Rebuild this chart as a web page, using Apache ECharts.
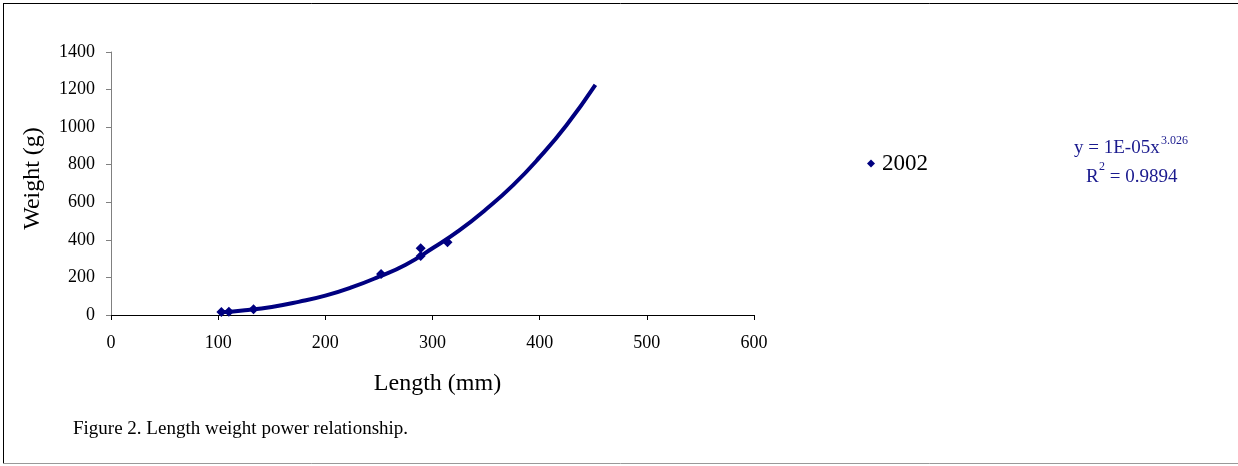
<!DOCTYPE html>
<html>
<head>
<meta charset="utf-8">
<script src="https://cdn.jsdelivr.net/npm/echarts@6/dist/echarts.min.js"></script>
<style>
html,body{margin:0;padding:0;background:#fff;}
#chart{width:1238px;height:466px;}
</style>
</head>
<body>
<div id="chart"></div>
<script>
// Observed data (Length mm, Weight g) for 2002
var lengths = [103, 110, 133, 252, 289, 289, 314];
var weights = [16, 17, 30, 218, 355, 314, 387];
// Power trendline
var trendLengths = [103, 125, 150, 175, 200, 225, 250, 275, 300, 325, 350, 375, 400, 425, 452];
var trendWeights = [14, 25, 43, 70, 103, 148, 204, 268, 355, 450, 563, 690, 840, 1010, 1225];
var xTicks = [0, 100, 200, 300, 400, 500, 600];
var yTicks = [0, 200, 400, 600, 800, 1000, 1200, 1400];
var seriesName = '2002';
var xTitle = 'Length (mm)';
var yTitle = 'Weight (g)';
var caption = 'Figure 2. Length weight power relationship.';
var eqMain = 'y = 1E-05x';
var eqExp = '3.026';
var r2Label = 'R';
var r2Exp = '2';
var r2Value = ' = 0.9894';

var pts = lengths.map(function (x, i) { return [x, weights[i]]; });
var trend = trendLengths.map(function (x, i) { return [x, trendWeights[i]]; });

var serif = '"Liberation Serif", "Times New Roman", serif';
var navy = '#000080';
var eqColor = '#1a1a8e';

var chart = echarts.init(document.getElementById('chart'), null, {renderer: 'canvas'});
chart.setOption({
  backgroundColor: '#ffffff',
  animation: false,
  textStyle: {fontFamily: serif},
  grid: {left: 111, right: 484, top: 52, bottom: 151, containLabel: false},
  legend: {
    data: [seriesName],
    left: 862, top: 147,
    icon: 'diamond', itemWidth: 8, itemHeight: 8,
    textStyle: {fontFamily: serif, fontSize: 23, color: '#000', padding: [0, 0, 0, 2]}
  },
  xAxis: {
    type: 'value', min: xTicks[0], max: xTicks[xTicks.length - 1], interval: 100,
    name: xTitle, nameLocation: 'middle', nameGap: 57,
    nameTextStyle: {fontFamily: serif, fontSize: 24, color: '#000', padding: [0, 0, 0, 10]},
    axisLine: {show: true, onZero: false, lineStyle: {color: '#000', width: 1}},
    axisTick: {show: true, inside: false, length: 5, lineStyle: {color: '#000'}},
    axisLabel: {fontFamily: serif, fontSize: 18, color: '#000', margin: 19,
      formatter: function (v) { return String(v); }},
    splitLine: {show: false}
  },
  yAxis: {
    type: 'value', min: yTicks[0], max: yTicks[yTicks.length - 1], interval: 200,
    name: yTitle, nameLocation: 'middle', nameGap: 66, nameRotate: 90,
    nameTextStyle: {fontFamily: serif, fontSize: 24, color: '#000', padding: [0, 0, 0, 10]},
    axisLine: {show: true, lineStyle: {color: '#808080', width: 1}},
    axisTick: {show: true, inside: false, length: 5, lineStyle: {color: '#808080'}},
    axisLabel: {fontFamily: serif, fontSize: 18, color: '#000', margin: 16,
      formatter: function (v) { return String(v); }},
    splitLine: {show: false}
  },
  series: [
    {
      name: 'trend', type: 'line', data: trend, smooth: true, showSymbol: false,
      lineStyle: {color: navy, width: 4}, itemStyle: {color: navy}, z: 2, silent: true
    },
    {
      name: seriesName, type: 'scatter', data: pts, symbol: 'diamond', symbolSize: 10,
      itemStyle: {color: navy, opacity: 1}, z: 3
    }
  ],
  graphic: [
    {type: 'line', shape: {x1: 3, y1: 3.5, x2: 1238, y2: 3.5}, style: {stroke: '#000', lineWidth: 1}},
    {type: 'line', shape: {x1: 3.5, y1: 3, x2: 3.5, y2: 463}, style: {stroke: '#000', lineWidth: 1}},
    {type: 'line', shape: {x1: 3, y1: 463.5, x2: 1238, y2: 463.5}, style: {stroke: '#999', lineWidth: 1}},
    {type: 'text', left: 73, top: 420, style: {text: caption, font: '19px ' + serif, fill: '#000'}},
    {type: 'text', x: 1074, y: 148, style: {text: eqMain, font: '19px ' + serif, fill: eqColor, textVerticalAlign: 'middle'}},
    {type: 'text', x: 1161, y: 141, style: {text: eqExp, font: '12px ' + serif, fill: eqColor, textVerticalAlign: 'middle'}},
    {type: 'text', x: 1086, y: 177, style: {text: r2Label, font: '19px ' + serif, fill: eqColor, textVerticalAlign: 'middle'}},
    {type: 'text', x: 1099, y: 167, style: {text: r2Exp, font: '12px ' + serif, fill: eqColor, textVerticalAlign: 'middle'}},
    {type: 'text', x: 1105, y: 177, style: {text: r2Value, font: '19px ' + serif, fill: eqColor, textVerticalAlign: 'middle'}}
  ]
});
</script>
</body>
</html>
